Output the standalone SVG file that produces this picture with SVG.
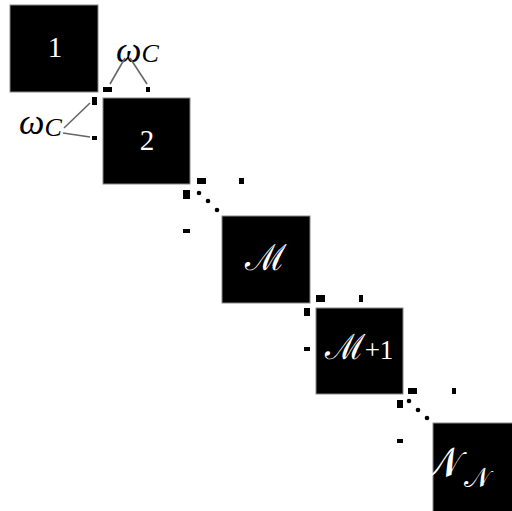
<svg xmlns="http://www.w3.org/2000/svg" width="512" height="511" viewBox="0 0 512 511">
<style>
.blk{fill:#000;stroke:#888;stroke-width:1}
.sq{fill:#000}
.lbl{fill:#fff;font-family:"Liberation Serif","DejaVu Serif",serif;text-anchor:middle}
.w{fill:#000;font-family:"Liberation Serif","DejaVu Serif",serif;font-style:italic}
.ln{stroke:#666;stroke-width:1.6;fill:none}
</style>
<rect width="512" height="511" fill="#fff"/>
<g id="node-1"><rect class="blk" x="10" y="5" width="88" height="87"/><text class="lbl" x="55" y="57" font-size="29">1</text></g>
<g id="node-2"><rect class="blk" x="103" y="98" width="87" height="86"/><text class="lbl" x="147" y="150" font-size="29">2</text></g>
<g id="node-M"><rect class="blk" x="222" y="216" width="88" height="87"/><text class="lbl" x="266" y="270" font-size="36">ℳ</text></g>
<g id="node-M1"><rect class="blk" x="316" y="308" width="87" height="86"/><text class="lbl" x="359" y="359" font-size="27"><tspan font-size="35">ℳ</tspan>+1</text></g>
<g id="node-NN"><rect class="blk" x="433" y="423" width="90" height="90"/><text class="lbl" x="455" y="477" font-size="42" text-anchor="start">𝒩<tspan font-size="27" dx="3" dy="10">𝒩</tspan></text></g>
<g id="labels">
<text class="w" x="116" y="62" font-size="36">ω<tspan font-size="26">C</tspan></text>
<text class="w" x="19" y="134" font-size="36">ω<tspan font-size="26" dy="2">C</tspan></text>
</g>
<g id="connectors">
<line class="ln" x1="125" y1="58" x2="110" y2="84"/>
<line class="ln" x1="130" y1="58" x2="147" y2="84"/>
<line class="ln" x1="64" y1="128" x2="90" y2="103"/>
<line class="ln" x1="63" y1="133" x2="90" y2="137"/>
</g>
<g id="markers">
<rect class="sq" x="103" y="87" width="9" height="5"/>
<rect class="sq" x="146" y="87" width="4" height="5"/>
<rect class="sq" x="92" y="97" width="5" height="8"/>
<rect class="sq" x="92" y="136" width="5" height="4"/>
<rect class="sq" x="197" y="178" width="9" height="6"/>
<rect class="sq" x="239" y="178" width="5" height="6"/>
<rect class="sq" x="183" y="190" width="7" height="9"/>
<rect class="sq" x="183" y="229" width="7" height="4"/>
<circle cx="199" cy="193" r="2.3"/><circle cx="208" cy="201" r="2.3"/><circle cx="217" cy="210" r="2.3"/>
<rect class="sq" x="316" y="295" width="9" height="7"/>
<rect class="sq" x="359" y="295" width="4" height="7"/>
<rect class="sq" x="304" y="308" width="6" height="8"/>
<rect class="sq" x="304" y="347" width="6" height="4"/>
<rect class="sq" x="408" y="388" width="9" height="6"/>
<rect class="sq" x="452" y="388" width="4" height="6"/>
<rect class="sq" x="397" y="400" width="6" height="8"/>
<rect class="sq" x="397" y="439" width="6" height="4"/>
<circle cx="409" cy="401" r="2.3"/><circle cx="418" cy="410" r="2.3"/><circle cx="427" cy="418" r="2.3"/>
</g>
</svg>
